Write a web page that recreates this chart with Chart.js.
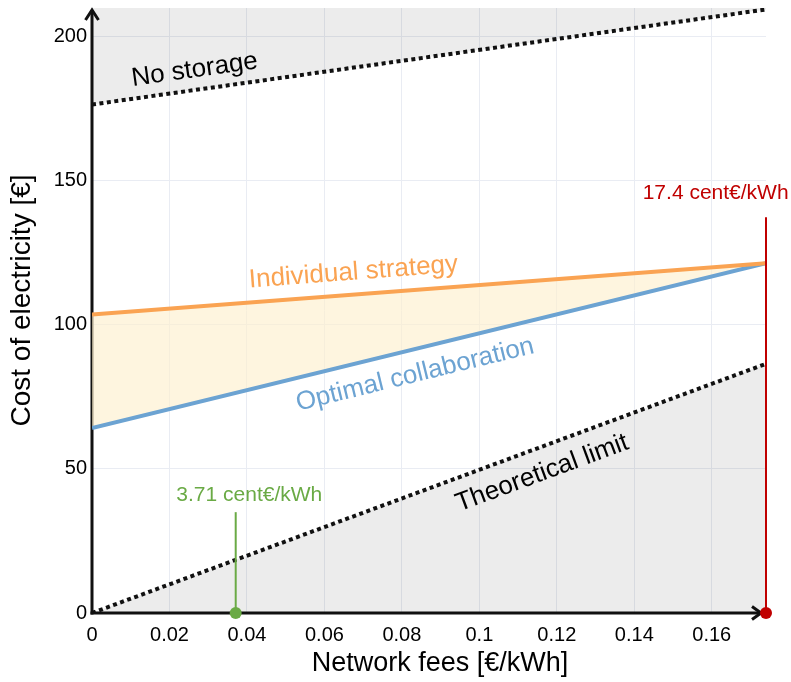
<!DOCTYPE html>
<html>
<head>
<meta charset="utf-8">
<title>Cost of electricity vs network fees</title>
<script src="https://cdn.jsdelivr.net/npm/chart.js@4"></script>
<style>
  html, body { margin: 0; padding: 0; background: #ffffff; }
  #wrap { width: 791px; height: 682px; }
</style>
</head>
<body>
<div id="wrap"><canvas id="myChart"></canvas></div>
<script>
"use strict";

/* ****************************************************************************
    DATA
**************************************************************************** */
var feeEnds = [0, 0.174]; // network fees [€/kWh] at both ends of each line
var noStorage = [176.5, 209.5]; // cost without storage
var individualStrategy = [103.6, 121.4]; // cost, individual strategy
var optimalCollaboration = [64.2, 121.4]; // cost, optimal collaboration
var theoreticalLimit = [0, 86.5]; // theoretical lower limit
var markerFees = [0.0371, 0.174]; // highlighted fee values
var markerTops = [35, 137.4]; // height of the marker stems
var markerLabels = ["3.71 cent€/kWh", "17.4 cent€/kWh"];
var xTickStep = 0.02;
var yTickStep = 50;

var FONT = "'Liberation Sans', Arial, Helvetica, sans-serif";
var GREEN = "rgb(106,170,69)";
var RED = "rgb(192,0,0)";
var ORANGE = "rgb(250,163,82)";
var BLUE = "rgb(108,163,210)";

/**
 * Turn two parallel arrays into {x, y} points.
 */
function toPoints(xs, ys) {
  let pts = [];
  for (let i = 0; i < xs.length; i++) {
    pts.push({ x: xs[i], y: ys[i] });
  }
  return pts;
}

/**
 * Draws the axis arrows, the axis titles and the text labels in the plot.
 */
var decorPlugin = {
  id: "decor",
  beforeDatasetsDraw(chart) {
    const ctx = chart.ctx;
    const a = chart.chartArea;
    ctx.save();
    ctx.strokeStyle = "#111111";
    ctx.lineWidth = 3;
    ctx.lineCap = "butt";
    // y axis with arrow
    ctx.beginPath();
    ctx.moveTo(a.left, a.bottom + 1.5);
    ctx.lineTo(a.left, a.top + 2);
    ctx.stroke();
    ctx.beginPath();
    ctx.moveTo(a.left - 6.5, a.top + 12);
    ctx.lineTo(a.left, a.top + 2);
    ctx.lineTo(a.left + 6.5, a.top + 12);
    ctx.stroke();
    // x axis with arrow
    ctx.beginPath();
    ctx.moveTo(a.left - 1.5, a.bottom);
    ctx.lineTo(a.right - 5, a.bottom);
    ctx.stroke();
    ctx.beginPath();
    ctx.moveTo(a.right - 14, a.bottom - 6.5);
    ctx.lineTo(a.right - 5, a.bottom);
    ctx.lineTo(a.right - 14, a.bottom + 6.5);
    ctx.stroke();
    // axis titles
    ctx.fillStyle = "#000000";
    ctx.font = "27px " + FONT;
    ctx.textAlign = "center";
    ctx.textBaseline = "middle";
    ctx.fillText("Network fees [€/kWh]", (a.left + a.right) / 2 + 11, 664);
    ctx.translate(22, (a.top + a.bottom) / 2 - 10);
    ctx.rotate(-Math.PI / 2);
    ctx.font = "28px " + FONT;
    ctx.fillText("Cost of electricity [€]", 0, 0);
    ctx.restore();
  },
  afterDatasetsDraw(chart) {
    const ctx = chart.ctx;
    const xs = chart.scales.x;
    const ys = chart.scales.y;
    // angle of a line in pixel space
    function slope(vals) {
      const dx = xs.getPixelForValue(feeEnds[1]) - xs.getPixelForValue(feeEnds[0]);
      const dy = ys.getPixelForValue(vals[1]) - ys.getPixelForValue(vals[0]);
      return Math.atan2(dy, dx);
    }
    function label(text, x, y, color, size, angle) {
      ctx.save();
      ctx.translate(xs.getPixelForValue(x), ys.getPixelForValue(y));
      ctx.rotate(angle);
      ctx.fillStyle = color;
      ctx.font = size + "px " + FONT;
      ctx.textAlign = "center";
      ctx.textBaseline = "middle";
      ctx.fillText(text, 0, 0);
      ctx.restore();
    }
    label("No storage", 0.0265, 188.5, "#000000", 26, slope(noStorage));
    label("Individual strategy", 0.0675, 118.2, ORANGE, 26, slope(individualStrategy));
    label("Optimal collaboration", 0.0834, 82.7, BLUE, 26, slope(optimalCollaboration));
    label("Theoretical limit", 0.1162, 48.5, "#000000", 26, slope(theoreticalLimit));
    label(markerLabels[0], 0.0406, 41, GREEN, 21, 0);
    label(markerLabels[1], 0.161, 145.6, RED, 21, 0);
  },
};

/**
 * Build the chart.
 */
function renderChart() {
  const data = {
    datasets: [
      {
        label: markerLabels[1],
        data: toPoints([markerFees[1], markerFees[1]], [0, markerTops[1]]),
        borderColor: RED,
        backgroundColor: RED,
        borderWidth: 2,
        fill: false,
        clip: false,
        pointRadius: [6, 0],
        pointBorderWidth: 0,
      },
      {
        label: markerLabels[0],
        data: toPoints([markerFees[0], markerFees[0]], [0, markerTops[0]]),
        borderColor: GREEN,
        backgroundColor: GREEN,
        borderWidth: 2,
        fill: false,
        clip: false,
        pointRadius: [6, 0],
        pointBorderWidth: 0,
      },
      {
        label: "No storage",
        data: toPoints(feeEnds, noStorage),
        borderColor: "#111111",
        borderWidth: 4,
        borderDash: [4, 3.5],
        backgroundColor: "rgba(0,0,0,0.075)",
        fill: "end",
        pointRadius: 0,
      },
      {
        label: "Individual strategy",
        data: toPoints(feeEnds, individualStrategy),
        borderColor: ORANGE,
        borderWidth: 4,
        fill: false,
        pointRadius: 0,
      },
      {
        label: "Optimal collaboration",
        data: toPoints(feeEnds, optimalCollaboration),
        borderColor: BLUE,
        borderWidth: 4,
        backgroundColor: "rgba(253,240,206,0.65)",
        fill: "-1",
        pointRadius: 0,
      },
      {
        label: "Theoretical limit",
        data: toPoints(feeEnds, theoreticalLimit),
        borderColor: "#111111",
        borderWidth: 4,
        borderDash: [4, 3.5],
        backgroundColor: "rgba(0,0,0,0.075)",
        fill: "origin",
        pointRadius: 0,
      },
    ],
  };

  const config = {
    type: "scatter",
    data: data,
    options: {
      responsive: true,
      maintainAspectRatio: false,
      animation: false,
      showLine: true,
      layout: { padding: { top: 8, right: 25, left: 0, bottom: 0 } },
      plugins: {
        legend: { display: false },
        tooltip: { enabled: false },
      },
      scales: {
        x: {
          type: "linear",
          min: feeEnds[0],
          max: feeEnds[1],
          afterFit(scale) {
            scale.height = 69;
            scale.paddingLeft = 0;
            scale.paddingRight = 0;
          },
          border: { display: false },
          grid: { color: "rgb(233,236,243)", lineWidth: 1, drawTicks: false },
          ticks: {
            stepSize: xTickStep,
            includeBounds: false,
            color: "#000000",
            padding: 10,
            maxRotation: 0,
            font: { family: FONT, size: 20 },
            callback: (value) => String(+value.toFixed(4)),
          },
        },
        y: {
          type: "linear",
          min: 0,
          max: 210,
          afterFit(scale) {
            scale.width = 92;
            scale.paddingTop = 0;
            scale.paddingBottom = 0;
          },
          border: { display: false },
          grid: { color: "rgb(233,236,243)", lineWidth: 1, drawTicks: false },
          ticks: {
            stepSize: yTickStep,
            includeBounds: false,
            color: "#000000",
            padding: 5,
            font: { family: FONT, size: 20 },
          },
        },
      },
    },
    plugins: [decorPlugin],
  };

  let canvasChart = document.getElementById("myChart");
  const myChart = new Chart(canvasChart, config);
}

renderChart();
</script>
</body>
</html>
